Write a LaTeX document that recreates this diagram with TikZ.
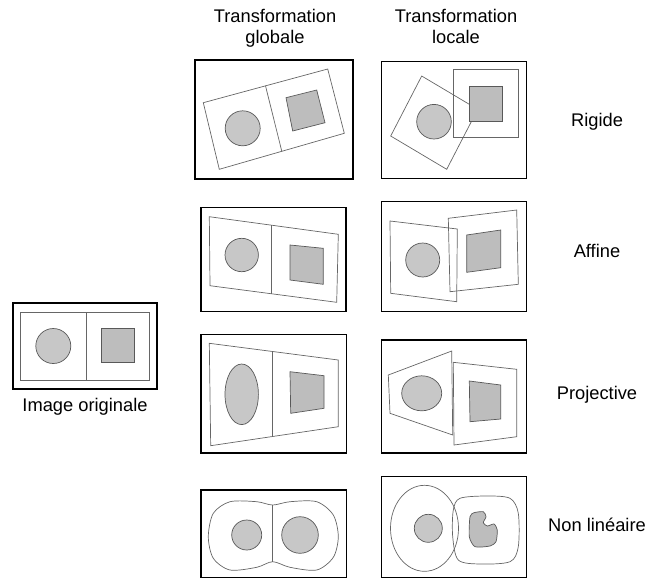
\documentclass[tikz,border=0pt]{standalone}
\usepackage{fontspec}
\setmainfont{Liberation Sans}
\usetikzlibrary{positioning}

\begin{document}
\begin{tikzpicture}[x=1pt, y=-1pt,
  frame/.style={draw=black, line width=1.1pt, inner sep=0pt},
  panel/.style={draw=black!60, line width=0.7pt},
  disc/.style={draw=black!65, line width=0.7pt, fill=black!22},
  sq/.style={draw=black!65, line width=0.7pt, fill=black!26},
  lbl/.style={font=\fontsize{18.3}{21}\selectfont, inner sep=0pt}]
\useasboundingbox (0,0) rectangle (650,579);

% Column headers
\node[lbl, align=center, anchor=north] (hglob) at (275,8.6) {Transformation\\globale};
\node[lbl, align=center, anchor=north] (hloc) at (456,8.6) {Transformation\\locale};

% Original image
\node[frame, minimum width=144pt, minimum height=86pt] (orig) at (85,346) {};
\draw[panel] (20.7,312.7) rectangle (149.3,380.7);
\draw[panel] (86,312.7) -- (86,380.7);
\draw[disc] (53.3,346) circle[radius=17.5];
\draw[sq] (101,328.3) rectangle (134.3,362.7);
\node[lbl, below=8pt of orig] (origlbl) {Image originale};

% Rigide, globale
\node[frame, minimum width=158pt, minimum height=119pt] (rg) at (274,119.5) {};
\draw[panel] (203.3,102.7) -- (327.7,69) -- (344.3,133.3) -- (219.3,169.3) -- cycle;
\draw[panel] (265.5,85.8) -- (281.8,151.3);
\draw[disc] (242.7,128.3) circle[radius=17.5];
\draw[sq] (286,97.7) -- (316.7,90) -- (325,122.7) -- (292.7,131) -- cycle;

% Rigide, locale
\node[frame, minimum width=145pt, minimum height=116.3pt] (rl) at (454.2,119.9) {};
\draw[panel] (421.7,76) -- (477.7,109.3) -- (446.7,169.3) -- (390.7,136) -- cycle;
\draw[disc] (434,121.7) circle[radius=17.3];
\draw[panel] (453.3,69) rectangle (518.3,137.3);
\draw[sq] (469.3,86.7) rectangle (502.7,121);

% Affine, globale
\node[frame, minimum width=145pt, minimum height=104pt] (ag) at (273.5,259.7) {};
\draw[panel] (209.3,216.7) -- (338.3,234.3) -- (336.7,302.3) -- (210,285.7) -- cycle;
\draw[panel] (271.7,225.2) -- (271.7,293.8);
\draw[disc] (241.7,255) circle[radius=16.7];
\draw[sq] (290,245) -- (323.3,248.3) -- (323.3,284.3) -- (290,280) -- cycle;

% Affine, locale
\node[frame, minimum width=145pt, minimum height=110pt] (al) at (454.2,256.7) {};
\draw[panel] (390,221) -- (457.3,229) -- (456.7,301.7) -- (390.7,293.3) -- cycle;
\draw[panel] (448.3,218.3) -- (516.7,210) -- (518.3,284.3) -- (450,291.7) -- cycle;
\draw[disc] (422.7,260) circle[radius=17];
\draw[sq] (466.7,235) -- (500.7,230) -- (500.7,267.7) -- (466.7,272.3) -- cycle;

% Projective, globale
\node[frame, minimum width=145.7pt, minimum height=118.7pt] (pg) at (273.85,393.65) {};
\draw[panel] (209.3,343.3) -- (338.3,360) -- (338.3,426.7) -- (210.7,445.7) -- cycle;
\draw[panel] (272.7,351.5) -- (272.7,436.5);
\draw[disc] (241.7,394.3) ellipse[x radius=16.7, y radius=30.3];
\draw[sq] (290,371.7) -- (324,375.7) -- (324,408.3) -- (290.7,413.3) -- cycle;

% Projective, locale
\node[frame, minimum width=145pt, minimum height=113pt] (pl) at (454.2,396.5) {};
\draw[panel] (388.3,375) -- (451.7,351) -- (452.7,435) -- (390,413.3) -- cycle;
\draw[panel] (453.3,362.3) -- (516.7,369.3) -- (516.7,436.7) -- (454,445) -- cycle;
\draw[disc] (421.7,393.3) ellipse[x radius=20, y radius=17.5];
\draw[sq] (469.3,381) -- (500.7,385) -- (500.7,419) -- (470,421.7) -- cycle;

% Non lineaire, globale
\node[frame, minimum width=145.7pt, minimum height=87.5pt] (ng) at (273.85,533.75) {};
\draw[panel] plot[smooth cycle] coordinates {(272.7,505) (256.7,501.7) (230,501.7)
  (213.3,513.3) (208.3,536.7) (213.3,558.3) (230,570) (256.7,567.3) (272.7,561.7)
  (290,567.3) (316.7,570) (333.3,557.3) (338.3,536.7) (333.3,515) (316.7,501.7) (290,501.7)};
\draw[panel] (272.7,505) -- (272.7,561.7);
\draw[disc] (246.7,535) circle[radius=15];
\draw[disc] (300,535) circle[radius=18.3];

% Non lineaire, locale
\node[frame, minimum width=145pt, minimum height=100.8pt] (nl) at (454.2,527.1) {};
\draw[panel] (424.5,528.3) ellipse[x radius=34, y radius=43];
\draw[panel] plot[smooth cycle] coordinates {(460,498.3) (486.7,496) (510,498.3)
  (518.3,513.3) (518.3,546.7) (510,561.7) (480,564) (458.3,560) (452.7,536.7) (453.3,510)};
\draw[disc] (428.3,528.3) circle[radius=14];
\draw[sq] plot[smooth cycle, tension=0.4] coordinates {(470,516.7) (474,512.7) (483.3,511.7)
  (486,516.7) (483.3,522.7) (487.3,526) (494,524) (497.3,530) (496,541.7) (490,546)
  (475,546.7) (469.3,536.7)};

% Row labels
\node[lbl, anchor=base] (rigide) at (597,126) {Rigide};
\node[lbl, anchor=base] (affine) at (597,257) {Affine};
\node[lbl, anchor=base] (proj) at (597,399) {Projective};
\node[lbl, anchor=base] (nonlin) at (597,531) {Non linéaire};

\end{tikzpicture}
\end{document}
